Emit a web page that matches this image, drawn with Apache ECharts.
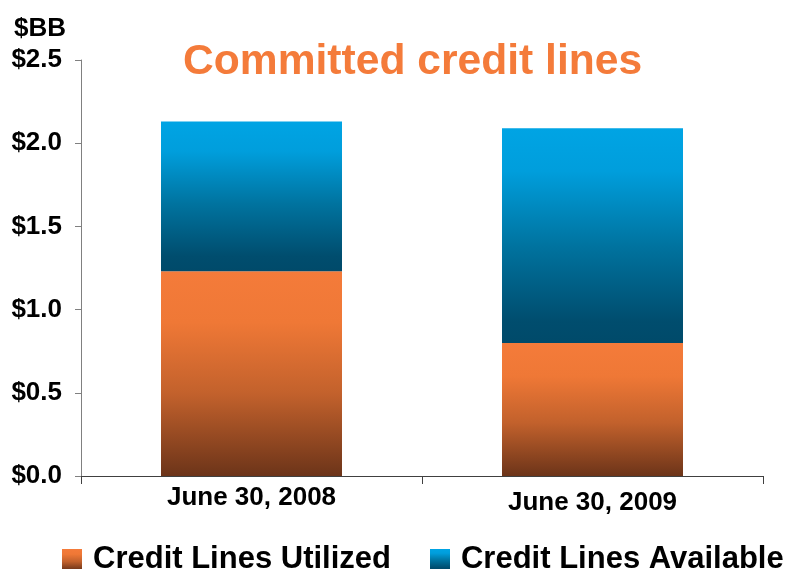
<!DOCTYPE html>
<html>
<head>
<meta charset="utf-8">
<script src="https://cdn.jsdelivr.net/npm/echarts@6/dist/echarts.min.js"></script>
<style>
  html, body { margin: 0; padding: 0; background: #ffffff; }
  #chart { width: 786px; height: 569px; }
</style>
</head>
<body>
<div id="chart"></div>
<script>
// Committed credit lines, $ billions
const categories = ['June 30, 2008', 'June 30, 2009'];
const utilized = [1.23, 0.80];
const available = [0.90, 1.29];
const yTickValues = [0, 0.5, 1.0, 1.5, 2.0, 2.5];
const yTickLabels = ['$0.0', '$0.5', '$1.0', '$1.5', '$2.0', '$2.5'];
const seriesNames = ['Credit Lines Utilized', 'Credit Lines Available'];

const FONT = '"Liberation Sans", Arial, sans-serif';

function vGradient(stops) {
  return new echarts.graphic.LinearGradient(0, 0, 0, 1,
    stops.map(([offset, color]) => ({ offset, color })));
}
const orangeFill = vGradient([[0, '#F47B3A'], [0.25, '#EF7836'], [0.6, '#C2612C'], [1, '#6C3419']]);
const blueFill = vGradient([[0, '#00A4E4'], [0.2, '#009EDC'], [0.55, '#00739F'], [0.9, '#004D6E'], [1, '#004A6A']]);

const chart = echarts.init(document.getElementById('chart'), null, { renderer: 'canvas' });

chart.setOption({
  animation: false,
  backgroundColor: '#ffffff',
  title: [
    {
      text: 'Committed credit lines',
      left: 178,
      top: 36,
      textStyle: { color: '#F47B3A', fontSize: 42.6, fontWeight: 'bold', fontFamily: FONT }
    },
    {
      text: '$BB',
      left: 9,
      top: 11,
      textStyle: { color: '#000000', fontSize: 26, fontWeight: 'bold', fontFamily: FONT }
    }
  ],
  legend: {
    data: [
      { name: seriesNames[0], itemStyle: { color: orangeFill } },
      { name: seriesNames[1], itemStyle: { color: blueFill } }
    ],
    left: 57,
    top: 539,
    width: 760,
    itemWidth: 20,
    itemHeight: 21,
    itemGap: 39,
    icon: 'rect',
    textStyle: { color: '#000000', fontSize: 31, fontWeight: 'bold', fontFamily: FONT, padding: [0, 0, 0, 6] }
  },
  grid: { left: 81, right: 23, top: 60, bottom: 93, containLabel: false },
  xAxis: {
    type: 'category',
    data: categories.map((c, i) => i === 1
      ? { value: c, textStyle: { padding: [5, 0, 0, 0] } }
      : c),
    boundaryGap: true,
    axisLine: { show: true, lineStyle: { color: '#404040', width: 1 } },
    axisTick: { show: true, length: 8, inside: false, lineStyle: { color: '#404040' } },
    axisLabel: {
      color: '#000000', fontSize: 26, fontWeight: 'bold', fontFamily: FONT, margin: 9
    }
  },
  yAxis: {
    type: 'value',
    min: 0,
    max: 2.5,
    interval: 0.5,
    splitLine: { show: false },
    axisLine: { show: true, lineStyle: { color: '#808080', width: 1 } },
    axisTick: { show: true, length: 6, lineStyle: { color: '#808080' } },
    axisLabel: {
      color: '#000000', fontSize: 26, fontWeight: 'bold', fontFamily: FONT, margin: 19,
      formatter: (v) => {
        const i = yTickValues.findIndex((t) => Math.abs(t - v) < 1e-9);
        return i >= 0 ? yTickLabels[i] : '';
      }
    }
  },
  series: [
    {
      name: seriesNames[0],
      type: 'bar',
      stack: 'total',
      barWidth: 181,
      data: utilized,
      itemStyle: { color: orangeFill }
    },
    {
      name: seriesNames[1],
      type: 'bar',
      stack: 'total',
      barWidth: 181,
      data: available,
      itemStyle: { color: blueFill }
    }
  ]
});
</script>
</body>
</html>
